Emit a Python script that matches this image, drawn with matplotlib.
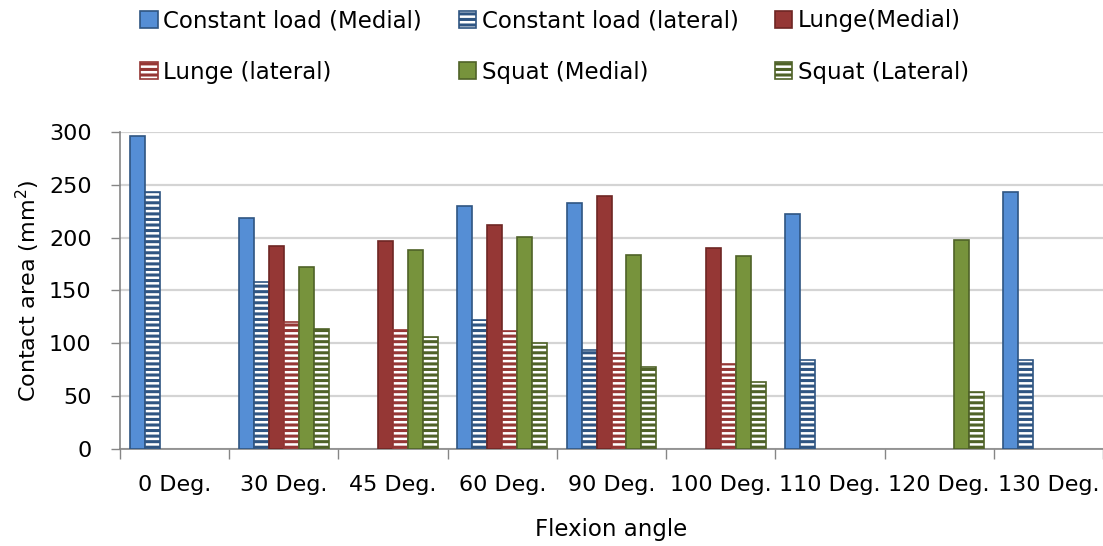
import numpy as np
import matplotlib
matplotlib.use("Agg")
import matplotlib.pyplot as plt
from matplotlib.patches import Patch

# Contact area (mm^2) per flexion angle; NaN where a condition was not measured
angles = ["0 Deg.", "30 Deg.", "45 Deg.", "60 Deg.", "90 Deg.", "100 Deg.",
          "110 Deg.", "120 Deg.", "130 Deg."]
nan = np.nan
const_medial = [296, 219, nan, 230, 233, nan, 222, nan, 243]
const_lateral = [243, 158, nan, 122, 94, nan, 84, nan, 84]
lunge_medial = [nan, 192, 197, 212, 239, 190, nan, nan, nan]
lunge_lateral = [nan, 120, 113, 112, 91, 80, nan, nan, nan]
squat_medial = [nan, 172, 188, 201, 184, 183, nan, 198, nan]
squat_lateral = [nan, 114, 106, 100, 78, 63, nan, 54, nan]

series_labels = ["Constant load (Medial)", "Constant load (lateral)", "Lunge(Medial)",
                 "Lunge (lateral)", "Squat (Medial)", "Squat (Lateral)"]

plt.rcParams["font.family"] = ["DejaVu Sans"]
plt.rcParams["hatch.linewidth"] = 2.2

blue, blue_dk = "#558ed5", "#2f5582"
red, red_dk = "#953735", "#6e2624"
green, green_dk = "#77933c", "#4f6228"

styles = [
    dict(facecolor=blue, edgecolor=blue_dk, hatch=None),
    dict(facecolor="white", edgecolor=blue_dk, hatch="---"),
    dict(facecolor=red, edgecolor=red_dk, hatch=None),
    dict(facecolor="white", edgecolor=red, hatch="---"),
    dict(facecolor=green, edgecolor=green_dk, hatch=None),
    dict(facecolor="white", edgecolor=green_dk, hatch="---"),
]
data = [const_medial, const_lateral, lunge_medial, lunge_lateral, squat_medial, squat_lateral]

fig = plt.figure(figsize=(11.03, 5.46), dpi=100)
ax = fig.add_axes([0.1088, 0.1777, 0.8912, 0.5806])

x = np.arange(len(angles))
w = 0.137
handles = []
for k, (vals, st, lab) in enumerate(zip(data, styles, series_labels)):
    ax.bar(x + (k - 2.5) * w, vals, width=w, linewidth=1.2, zorder=3, **st)
    handles.append(Patch(label=lab, linewidth=1.2, **st))

ax.set_xlim(-0.5, len(angles) - 0.5)
ax.set_ylim(0, 300)
ax.set_yticks(np.arange(0, 301, 50))
ax.set_xticks(x)
ax.set_xticklabels(angles, fontsize=16)
ax.set_xticks(np.arange(-0.5, len(angles), 1), minor=True)
ax.tick_params(axis="x", which="major", length=0, pad=19)
ax.tick_params(axis="x", which="minor", length=7, color="#868686", width=1)
ax.tick_params(axis="y", length=6.5, color="#868686", width=1, labelsize=16, pad=14)
ax.yaxis.grid(True, color="#d4d4d4", linewidth=1.6, zorder=0)
ax.set_axisbelow(True)
for s in ["top", "right"]:
    ax.spines[s].set_visible(False)
for s in ["left", "bottom"]:
    ax.spines[s].set_color("#868686")
    ax.spines[s].set_linewidth(1.2)

ax.set_ylabel("Contact area (mm$^2$)", fontsize=16, labelpad=5)
ax.set_xlabel("Flexion angle", fontsize=16.5)
ax.xaxis.set_label_coords(0.5, -0.254)
ax.xaxis.label.set_verticalalignment("center")

# legend laid out row by row in three columns
order = [0, 3, 1, 4, 2, 5]
leg = fig.legend([handles[i] for i in order], [series_labels[i] for i in order],
                 ncol=3, loc="upper left", bbox_to_anchor=(0.119, 1.0),
                 frameon=False, fontsize=16.5, handlelength=0.75, handleheight=0.75,
                 handletextpad=0.25, columnspacing=1.6, labelspacing=1.25,
                 borderaxespad=0.0)

fig.savefig("out.png", dpi=100)
